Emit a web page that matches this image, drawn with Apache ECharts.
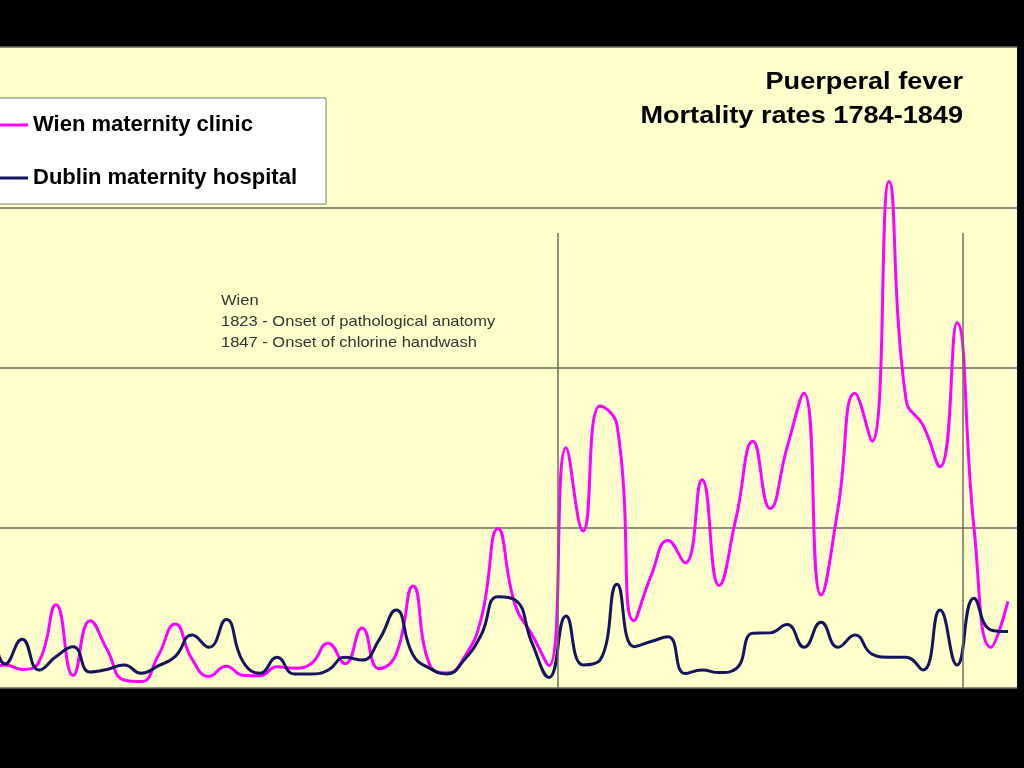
<!DOCTYPE html>
<html>
<head>
<meta charset="utf-8">
<script src="https://cdn.jsdelivr.net/npm/echarts@6/dist/echarts.min.js"></script>
<style>
html,body{margin:0;padding:0;background:#000;}
#chart{width:1024px;height:768px;}
</style>
</head>
<body>
<div id="chart"></div>
<script>
var years = [];
for (var yr = 1784; yr <= 1849; yr++) years.push(yr);

// Wien maternity clinic, mortality %
var wien = [
  2.11, 1.44, 0.43, 0.35, 0.35, 0.56, 0.72, 0.58, 0.82, 2.6,   // 1784-1793
  0.39, 2.1, 1.2, 0.25, 0.2, 1.0, 2.0, 0.9, 0.36, 0.68,        // 1794-1803
  0.4, 0.38, 0.66, 0.62, 0.76, 1.4, 0.76, 1.87, 0.6, 1.05,     // 1804-1813
  3.18, 0.7, 0.47, 0.95, 2.15, 4.98, 2.6, 1.66, 0.7, 7.5,      // 1814-1823
  4.9, 8.8, 8.2, 2.1, 3.5, 4.6, 3.9, 6.5, 3.2, 5.3,            // 1824-1833
  7.7, 5.6, 7.5, 9.2, 2.9, 5.6, 9.2, 7.7, 15.8, 9.0,           // 1834-1843
  8.2, 6.9, 11.4, 5.0, 1.27, 2.7                               // 1844-1849
];
// Dublin maternity hospital, mortality %
var dublin = [
  1.2, 1.0, 1.3, 1.1, 1.0, 1.8, 0.75, 1.52, 0.56, 0.98,        // 1784-1793
  1.29, 0.5, 0.58, 0.72, 0.46, 0.69, 0.98, 1.65, 1.27, 2.14,   // 1794-1803
  0.82, 0.46, 0.96, 0.44, 0.44, 0.56, 0.96, 0.87, 1.5, 2.43,   // 1804-1813
  1.03, 0.61, 0.44, 0.87, 1.65, 2.85, 2.75, 1.4, 0.33, 2.25,   // 1814-1823
  0.72, 0.87, 3.24, 1.29, 1.45, 1.6, 0.45, 0.56, 0.48, 0.6,    // 1824-1833
  1.71, 1.72, 1.98, 1.27, 2.05, 1.27, 1.65, 1.06, 0.96, 0.96,  // 1834-1843
  0.56, 2.43, 0.72, 2.8, 1.81, 1.76                            // 1844-1849
];
var seriesNames = ['Wien maternity clinic', 'Dublin maternity hospital'];
var eventYears = [1823, 1847];
var yTicks = [0, 5, 10, 15, 20];

function pairs(vals) {
  return years.map(function (y, i) { return [y, vals[i]]; });
}

var FONT = 'Arial, Liberation Sans, Helvetica, sans-serif';
var chart = echarts.init(document.getElementById('chart'), null, {renderer: 'canvas'});
var markerX = [eventYears[0] - 0.47, eventYears[1] - 0.65];

chart.setOption({
  backgroundColor: '#000000',
  animation: false,
  grid: {
    left: 0, right: 7, top: 47, bottom: 80,
    show: true, backgroundColor: '#FFFFCC', borderWidth: 0
  },
  xAxis: {
    type: 'value', min: 1789.7, max: 1849.53,
    axisLine: {show: false}, axisTick: {show: false},
    axisLabel: {show: false}, splitLine: {show: false}
  },
  yAxis: {
    type: 'value', min: yTicks[0], max: yTicks[yTicks.length - 1], interval: yTicks[1] - yTicks[0],
    axisLine: {show: false}, axisTick: {show: false}, axisLabel: {show: false},
    splitLine: {show: true, lineStyle: {color: '#6e6e60', width: 1.5}}
  },
  legend: {
    orient: 'vertical',
    left: -50, top: 98,
    padding: [16, 29, 15, 18],
    itemGap: 31,
    itemWidth: 60, itemHeight: 3,
    icon: 'rect',
    backgroundColor: '#ffffff',
    borderColor: '#7a7a7a', borderWidth: 1,
    textStyle: {fontFamily: FONT, fontWeight: 'bold', fontSize: 22, color: '#000'},
    data: seriesNames
  },
  graphic: [
    {
      type: 'text', x: 963, y: 65, scaleX: 1.13,
      style: {
        text: 'Puerperal fever\nMortality rates 1784-1849',
        align: 'right', verticalAlign: 'top',
        fontFamily: FONT, fontWeight: 'bold', fontSize: 24,
        lineHeight: 34, fill: '#000'
      }
    },
    {
      type: 'text', x: 221, y: 290, scaleX: 1.1,
      style: {
        text: 'Wien\n1823 - Onset of pathological anatomy\n1847 - Onset of chlorine handwash',
        align: 'left', verticalAlign: 'top',
        fontFamily: FONT, fontSize: 15,
        lineHeight: 21, fill: '#333'
      }
    }
  ],
  series: [
    {
      name: seriesNames[0], type: 'line', smooth: 0.5, symbol: 'none',
      data: pairs(wien),
      lineStyle: {color: '#FF00FF', width: 3},
      itemStyle: {color: '#FF00FF'},
      z: 3,
      markLine: {
        silent: true, symbol: 'none', label: {show: false},
        lineStyle: {color: '#6e6e62', width: 1.5, type: 'solid'},
        data: [
          [{coord: [markerX[0], 0]}, {coord: [markerX[0], 14.2]}],
          [{coord: [markerX[1], 0]}, {coord: [markerX[1], 14.2]}]
        ]
      }
    },
    {
      name: seriesNames[1], type: 'line', smooth: 0.5, symbol: 'none',
      data: pairs(dublin),
      lineStyle: {color: '#14145f', width: 3},
      itemStyle: {color: '#14145f'},
      z: 4
    }
  ]
});
</script>
</body>
</html>
